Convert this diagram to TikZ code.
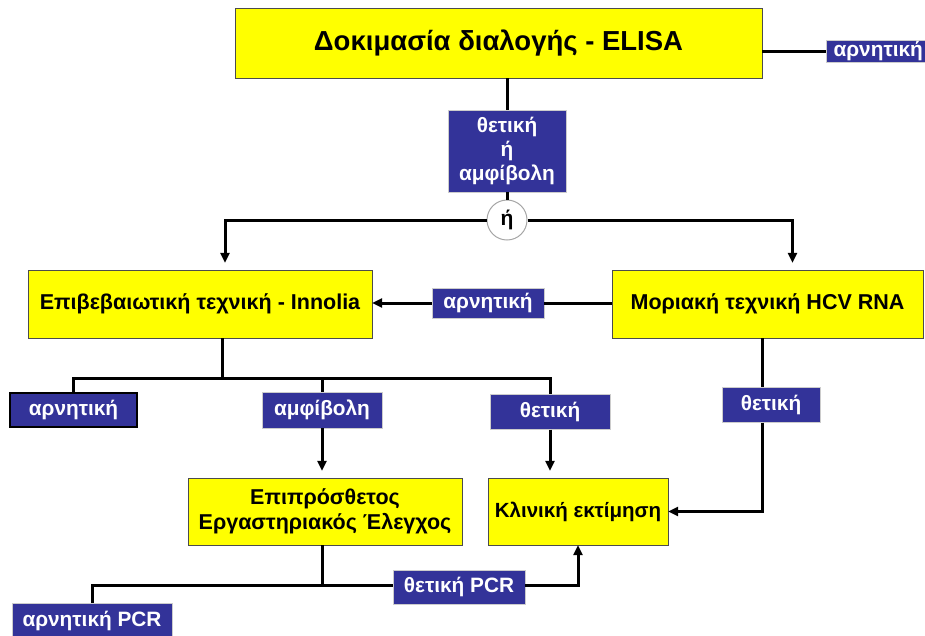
\documentclass[tikz,border=0pt]{standalone}
\usepackage{fontspec}
\setmainfont{Liberation Sans}
\usetikzlibrary{arrows.meta,positioning}

\definecolor{boxyellow}{RGB}{255,255,0}
\definecolor{boxblue}{RGB}{51,51,153}

\begin{document}
\begin{tikzpicture}[x=1pt,y=-1pt,
  step box/.style={draw=black!70,fill=boxyellow,align=center,
                   font=\fontsize{21.5}{25}\selectfont\bfseries,inner sep=0pt},
  result/.style={draw=gray!40,fill=boxblue,text=white,align=center,
                 font=\fontsize{20.8}{24}\selectfont\bfseries,inner sep=0pt},
  link/.style={line width=3pt},
  arrow/.style={link,-{Triangle[length=10pt,width=9pt]}},
]
\useasboundingbox (0,0) rectangle (925,635);

% Screening
\node[step box,minimum width=527pt,minimum height=70pt,
      font=\fontsize{27.5}{30}\selectfont\bfseries] (elisa) at (498.5,43)
  {Δοκιμασία διαλογής - ELISA};
\node[result,minimum width=104pt,minimum height=22pt,anchor=west] (negtop) at (826,51)
  {αρνητική};
\node[result,minimum width=118pt,minimum height=82pt] (posamb) at (507,151)
  {θετική\\ή\\αμφίβολη};
\node[circle,draw=gray!70,fill=white,line width=1pt,minimum size=40pt,inner sep=0pt,
      font=\fontsize{21}{24}\selectfont\bfseries] (or) at (507,220) {ή};

% Confirmation
\node[step box,minimum width=344pt,minimum height=68pt] (inno) at (200,304)
  {Επιβεβαιωτική τεχνική - Innolia};
\node[step box,minimum width=311pt,minimum height=68pt] (rna) at (767.5,304)
  {Μοριακή τεχνική HCV RNA};
\node[result,minimum width=112pt,minimum height=30pt] (negmid) at (488,303)
  {αρνητική};

% Results of Innolia and HCV RNA
\node[result,draw=black,line width=2.5pt,minimum width=127pt,minimum height=34pt] (neg1) at (73.5,410)
  {αρνητική};
\node[result,minimum width=120pt,minimum height=36pt] (amb) at (322,410)
  {αμφίβολη};
\node[result,minimum width=120pt,minimum height=35pt] (pos1) at (550,412)
  {θετική};
\node[result,minimum width=98pt,minimum height=35pt] (pos2) at (771,405)
  {θετική};

% Follow-up
\node[step box,minimum width=274pt,minimum height=67pt] (extra) at (325,511.5)
  {Επιπρόσθετος\\Εργαστηριακός Έλεγχος};
\node[step box,minimum width=180pt,minimum height=67pt,
      font=\fontsize{20.5}{24}\selectfont\bfseries] (clinic) at (578,511.5)
  {Κλινική εκτίμηση};
\node[result,minimum width=132pt,minimum height=34pt] (pospcr) at (459,587)
  {θετική PCR};
\node[result,minimum width=160pt,minimum height=36pt] (negpcr) at (92,621)
  {αρνητική PCR};

% Connectors
\coordinate (innosplit) at (222,378);
\coordinate (pcrsplit) at (322,585);
\coordinate (rnaline) at (762,0);
\draw[link] (elisa.east |- negtop) -- (negtop.west);
\draw[link] (posamb.north |- elisa.south) -- (posamb.north);
\draw[link] (posamb.south) -- (or.north);
\draw[arrow,shorten >=7pt] (or.west) -| ([xshift=25pt]inno.north);
\draw[arrow,shorten >=7pt] (or.east) -| ([xshift=25pt]rna.north);
\draw[link] (negmid.east) -- (negmid.east -| rna.west);
\draw[arrow] (negmid.west) -- (negmid.west -| inno.east);
\draw[link] (inno.south -| innosplit) -- (innosplit);
\draw[link] (neg1.north) |- (innosplit) -| (pos1.north);
\draw[link] (innosplit -| amb.north) -- (amb.north);
\draw[arrow,shorten >=7pt] (amb.south) -- (amb.south |- extra.north);
\draw[arrow,shorten >=7pt] (pos1.south) -- (pos1.south |- clinic.north);
\draw[link] (rna.south -| rnaline) -- (pos2.north -| rnaline);
\draw[arrow] (pos2.south -| rnaline) |- (clinic.east);
\draw[link] (extra.south -| pcrsplit) -- (pcrsplit);
\draw[link] (negpcr.north) |- (pcrsplit) -- (pcrsplit -| pospcr.west);
\draw[arrow] (pcrsplit -| pospcr.east) -| (clinic.south);

\end{tikzpicture}
\end{document}
